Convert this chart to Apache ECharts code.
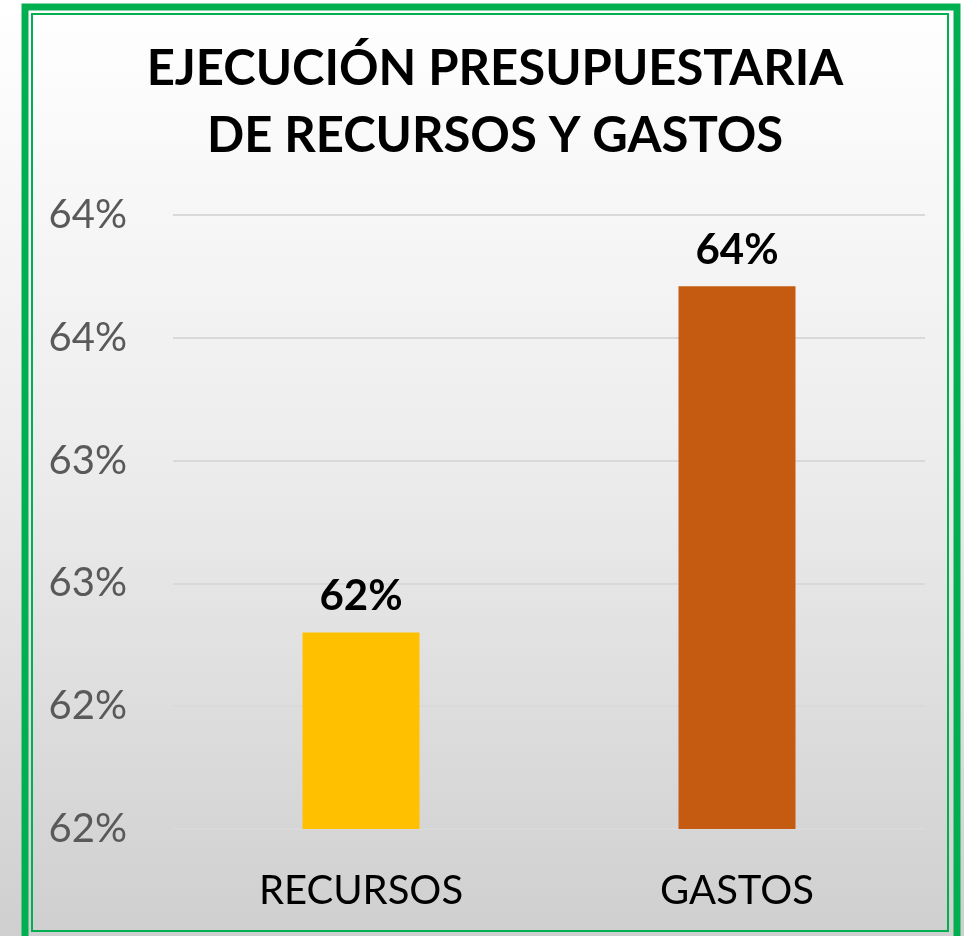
<!DOCTYPE html>
<html>
<head>
<meta charset="utf-8">
<script src="https://cdn.jsdelivr.net/npm/echarts@6/dist/echarts.min.js"></script>
<style>
  html, body { margin: 0; padding: 0; }
  #main { width: 964px; height: 936px; }
</style>
</head>
<body>
<div id="main"></div>
<script>
  // datos del grafico
  var categorias = ['RECURSOS', 'GASTOS'];
  var valores = [62.30, 63.71];
  var colores = ['#ffc000', '#c55a11'];

  var fuente = 'Lato';

  var chart = echarts.init(document.getElementById('main'));
  chart.setOption({
    backgroundColor: {
      type: 'linear', x: 0, y: 0, x2: 0, y2: 1,
      colorStops: [
        {offset: 0, color: '#ffffff'},
        {offset: 0.5, color: '#ececec'},
        {offset: 1, color: '#cfcfcf'}
      ]
    },
    title: {
      text: 'EJECUCIÓN PRESUPUESTARIA\nDE RECURSOS Y GASTOS',
      left: 490,
      top: 31,
      textAlign: 'center',
      textStyle: {
        fontFamily: fuente,
        fontSize: 49,
        fontWeight: 'bold',
        color: '#000',
        lineHeight: 67
      }
    },
    grid: {
      left: 173,
      right: 39,
      top: 215,
      bottom: 107
    },
    xAxis: {
      type: 'category',
      data: categorias,
      axisLine: {show: false},
      axisTick: {show: false},
      axisLabel: {
        fontFamily: fuente,
        fontSize: 40,
        color: '#000',
        margin: 42
      }
    },
    yAxis: {
      type: 'value',
      min: 61.5,
      max: 64,
      interval: 0.5,
      axisLine: {show: false},
      axisTick: {show: false},
      splitLine: {lineStyle: {color: '#d9d9d9', width: 2}},
      axisLabel: {
        fontFamily: fuente,
        fontSize: 40,
        color: '#595959',
        margin: 46,
        formatter: function (v) { return Math.round(v) + '%'; }
      }
    },
    series: [{
      type: 'bar',
      barWidth: 117,
      data: valores.map(function (v, i) {
        return {value: v, itemStyle: {color: colores[i]}};
      }),
      label: {
        show: true,
        position: 'top',
        distance: 15,
        fontFamily: fuente,
        fontSize: 42,
        fontWeight: 'bold',
        color: '#000',
        formatter: function (p) { return Math.round(p.value) + '%'; }
      }
    }],
    graphic: [
      {
        type: 'rect',
        shape: {x: 25, y: 7, width: 932, height: 940},
        style: {fill: null, stroke: '#00b050', lineWidth: 7}
      },
      {
        type: 'rect',
        shape: {x: 32, y: 14, width: 916, height: 917},
        style: {fill: null, stroke: '#00b050', lineWidth: 2}
      }
    ]
  });
</script>
</body>
</html>
